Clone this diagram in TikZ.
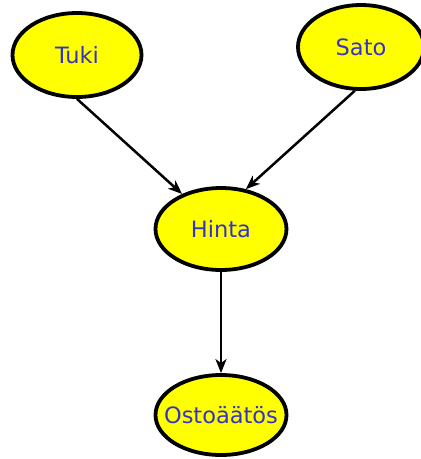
\documentclass[tikz,border=0pt]{standalone}
\usepackage{fontspec}
\setmainfont{DejaVu Sans}
\usetikzlibrary{shapes.geometric,arrows.meta}
\definecolor{nodeyellow}{RGB}{255,255,0}
\definecolor{textblue}{RGB}{51,51,204}
\begin{document}
\begin{tikzpicture}[x=1pt,y=-1pt,
  blob/.style={ellipse,draw=black,line width=3.8pt,fill=nodeyellow,inner sep=0pt,
    label={[text=textblue,font=\fontsize{22.5}{25}\selectfont,inner sep=0pt]center:#1}},
  link/.style={-{Stealth[length=14pt,width=11pt,inset=4pt]},line width=2.5pt,black}]
\useasboundingbox (0,0) rectangle (421,459);
\node[blob=Tuki,minimum width=129pt,minimum height=84pt] (tuki) at (77,55) {};
\node[blob=Sato,minimum width=126pt,minimum height=84pt] (sato) at (361,47) {};
\node[blob=Hinta,minimum width=131pt,minimum height=82pt] (hinta) at (221,229) {};
\node[blob=Ostoäätös,minimum width=131pt,minimum height=80pt] (osto) at (221,415) {};
\draw[link] (tuki.south) -- (hinta.138);
\draw[link] (sato.262) -- (hinta.58);
\draw[link] (hinta.south) -- (osto.north);
\end{tikzpicture}
\end{document}
